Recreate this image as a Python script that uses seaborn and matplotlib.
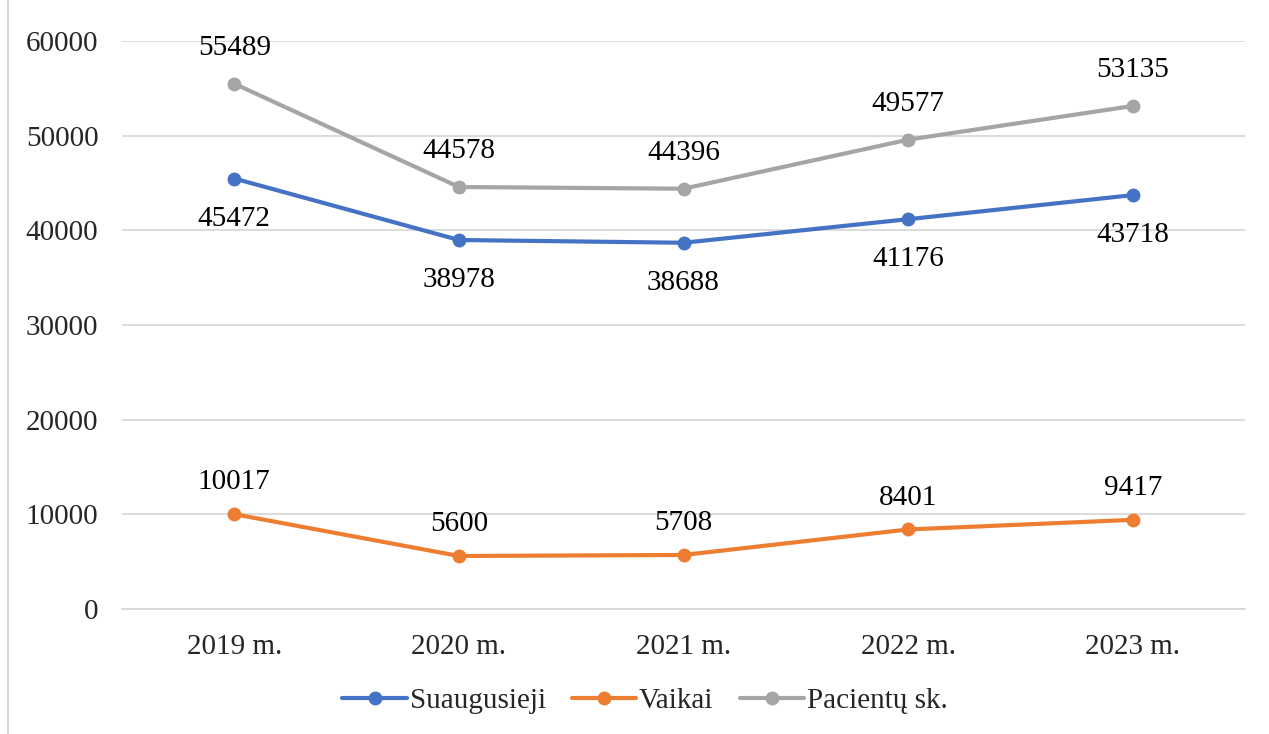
import pandas as pd
import matplotlib
matplotlib.use('Agg')
import matplotlib.pyplot as plt
import seaborn as sns
from matplotlib.lines import Line2D

# Chart data
years = ['2019 m.', '2020 m.', '2021 m.', '2022 m.', '2023 m.']
suaugusieji = [45472, 38978, 38688, 41176, 43718]
vaikai = [10017, 5600, 5708, 8401, 9417]
pacientai = [55489, 44578, 44396, 49577, 53135]

series_names = ['Suaugusieji', 'Vaikai', 'Pacientų sk.']
series_values = [suaugusieji, vaikai, pacientai]
colors = ['#4472C4', '#ED7D31', '#A5A5A5']
y_ticks = [0, 10000, 20000, 30000, 40000, 50000, 60000]

rows = []
for name, vals in zip(series_names, series_values):
    for i, v in enumerate(vals):
        rows.append({'x': i, 'value': v, 'series': name})
df = pd.DataFrame(rows)

sns.set_style('white')
plt.rcParams['font.family'] = ['Liberation Serif', 'DejaVu Serif']
FS = 21

fig = plt.figure(figsize=(12.69, 7.34), dpi=100)
ax = fig.add_axes([122 / 1269, 1 - 609 / 734, (1245 - 122) / 1269, 568 / 734])

sns.lineplot(data=df, x='x', y='value', hue='series', hue_order=series_names,
             palette=colors, marker='o', markersize=10, linewidth=3,
             markeredgewidth=0, ax=ax, legend=False, zorder=3)

# data labels: adults below, others above
offsets = {'Suaugusieji': -29, 'Vaikai': 23, 'Pacientų sk.': 26}
for name, vals in zip(series_names, series_values):
    for i, v in enumerate(vals):
        ax.annotate(str(v), (i, v), xytext=(0, offsets[name]), textcoords='offset points',
                    ha='center', va='center', fontsize=FS, color='black')

ax.set_xlim(-0.5, 4.5)
ax.set_ylim(0, 60000)
ax.set_xticks(range(len(years)))
ax.set_xticklabels(years)
ax.set_yticks(y_ticks)
ax.set_yticklabels([str(t) for t in y_ticks])
ax.tick_params(axis='y', length=0, pad=17, labelsize=FS)
ax.tick_params(axis='x', length=0, pad=18, labelsize=FS)
ax.set_xlabel('')
ax.set_ylabel('')
ax.grid(axis='y', color='#D9D9D9', linewidth=1.3)
ax.set_axisbelow(True)
for s in ['top', 'right', 'left']:
    ax.spines[s].set_visible(False)
ax.spines['bottom'].set_color('#D9D9D9')
ax.spines['bottom'].set_linewidth(1.3)

handles = [Line2D([0], [0], color=c, linewidth=3, marker='o', markersize=10,
                  markeredgewidth=0) for c in colors]
fig.legend(handles, series_names, loc='center', bbox_to_anchor=(645 / 1269, 1 - 701 / 734),
           ncol=3, frameon=False, fontsize=FS, handlelength=2.2, handletextpad=0.1,
           columnspacing=0.9)

# faint chart border on the left edge
fig.add_artist(Line2D([8 / 1269, 8 / 1269], [0, 1], color='#D9D9D9', linewidth=1.5))

fig.savefig('out.png', dpi=100)
